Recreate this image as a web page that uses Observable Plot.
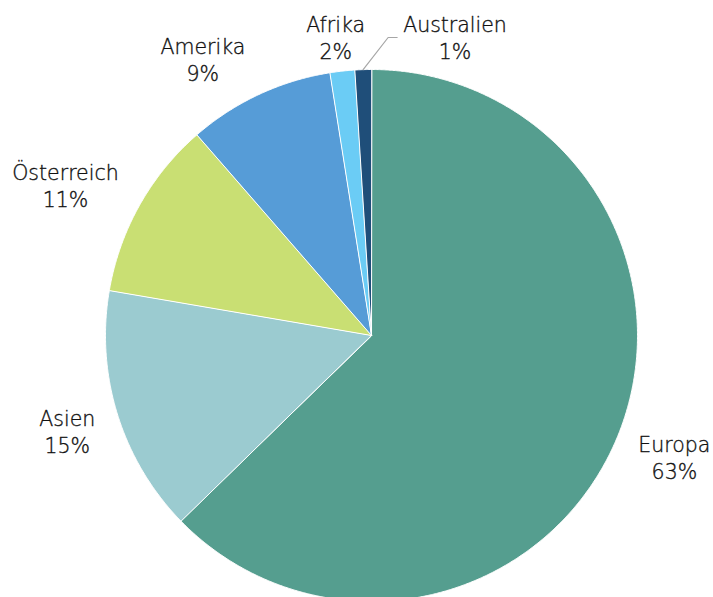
<!DOCTYPE html>
<html><head><meta charset="utf-8">
<script src="https://cdn.jsdelivr.net/npm/d3@7"></script>
<script src="https://cdn.jsdelivr.net/npm/@observablehq/plot@0.6"></script>
<style>body{margin:0;background:#fff}</style>
</head><body><div id="chart"></div>
<script>
// ---- data ----
const regions = ["Europa", "Asien", "Österreich", "Amerika", "Afrika", "Australien"];
const shares = [62.7, 15.0, 10.9, 8.9, 1.5, 1.0];
const percentLabels = ["63%", "15%", "11%", "9%", "2%", "1%"];
const colors = ["#559E8F", "#9BCBD0", "#C9DF73", "#569CD7", "#6BCCF5", "#1F4E79"];

// ---- layout ----
const W = 713, H = 597, CX = 371, CY = 335, R = 266;
const FONT = "DejaVu Sans", FONT_SIZE = 20.5, FONT_WEIGHT = 300, LINE_H = 27;
const ANCHOR_R = R + 16, PADX = 7, TOP_LIMIT = 36;
const leaderNudge = {Australien: 93};

const table = regions.map((name, i) => ({name, value: shares[i], pct: percentLabels[i]}));
const arcs = d3.pie().sort(null).value(d => d.value)(table);

// slice polygons in radius units (y up)
const slicePts = [];
for (const a of arcs) {
  const n = Math.max(2, Math.ceil((a.endAngle - a.startAngle) / 0.005));
  slicePts.push({name: a.data.name, x: 0, y: 0});
  for (let k = 0; k <= n; k++) {
    const t = a.startAngle + (a.endAngle - a.startAngle) * k / n;
    slicePts.push({name: a.data.name, x: Math.sin(t), y: Math.cos(t)});
  }
}

// label placement (outside end, Excel-like)
const ctx = document.createElement("canvas").getContext("2d");
ctx.font = `${FONT_WEIGHT} ${FONT_SIZE}px "${FONT}"`;
const labels = [], leaders = [];
for (const a of arcs) {
  const d = a.data, mid = (a.startAngle + a.endAngle) / 2;
  const sx = Math.sin(mid), sy = Math.cos(mid);
  const w = Math.max(ctx.measureText(d.name).width, ctx.measureText(d.pct).width);
  const k = Math.min(1, (Math.abs(sx) / 0.3) ** 2);
  let px = CX + ANCHOR_R * sx + Math.sign(sx) * (w / 2 + PADX) * k;
  let py = CY - ANCHOR_R * sy - Math.sign(sy) * (12 + 22 * Math.max(0, Math.abs(sy) - 0.5));
  py = Math.max(py, TOP_LIMIT);
  if (leaderNudge[d.name]) {
    px += leaderNudge[d.name];
    const endX = px - w / 2 - 6, elbowX = endX - 9;
    leaders.push(
      {name: d.name, x: sx, y: sy},
      {name: d.name, x: (elbowX - CX) / R, y: (CY - (py + 1)) / R},
      {name: d.name, x: (endX - CX) / R, y: (CY - (py + 1)) / R}
    );
  }
  labels.push({text: d.name + "\n" + d.pct, x: (px - CX) / R, y: (CY - py) / R});
}

const chart = Plot.plot({
  width: W, height: H, margin: 0,
  style: {fontFamily: FONT, background: "#fff"},
  x: {domain: [-CX / R, (W - CX) / R], axis: null},
  y: {domain: [-(H - CY) / R, CY / R], axis: null},
  color: {domain: regions, range: colors},
  marks: [
    Plot.line(slicePts, {x: "x", y: "y", z: "name", fill: "name", stroke: "#fff", strokeWidth: 1, curve: "linear-closed"}),
    Plot.line(leaders, {x: "x", y: "y", z: "name", stroke: "#A6A6A6", strokeWidth: 1.2}),
    Plot.text(labels, {x: "x", y: "y", text: "text", fontSize: FONT_SIZE, fontWeight: FONT_WEIGHT,
      lineHeight: LINE_H / FONT_SIZE, fill: "#111", stroke: "#111", strokeWidth: 0.35,
      textAnchor: "middle", lineAnchor: "middle"})
  ]
});
document.getElementById("chart").appendChild(chart);
</script>
</body></html>
